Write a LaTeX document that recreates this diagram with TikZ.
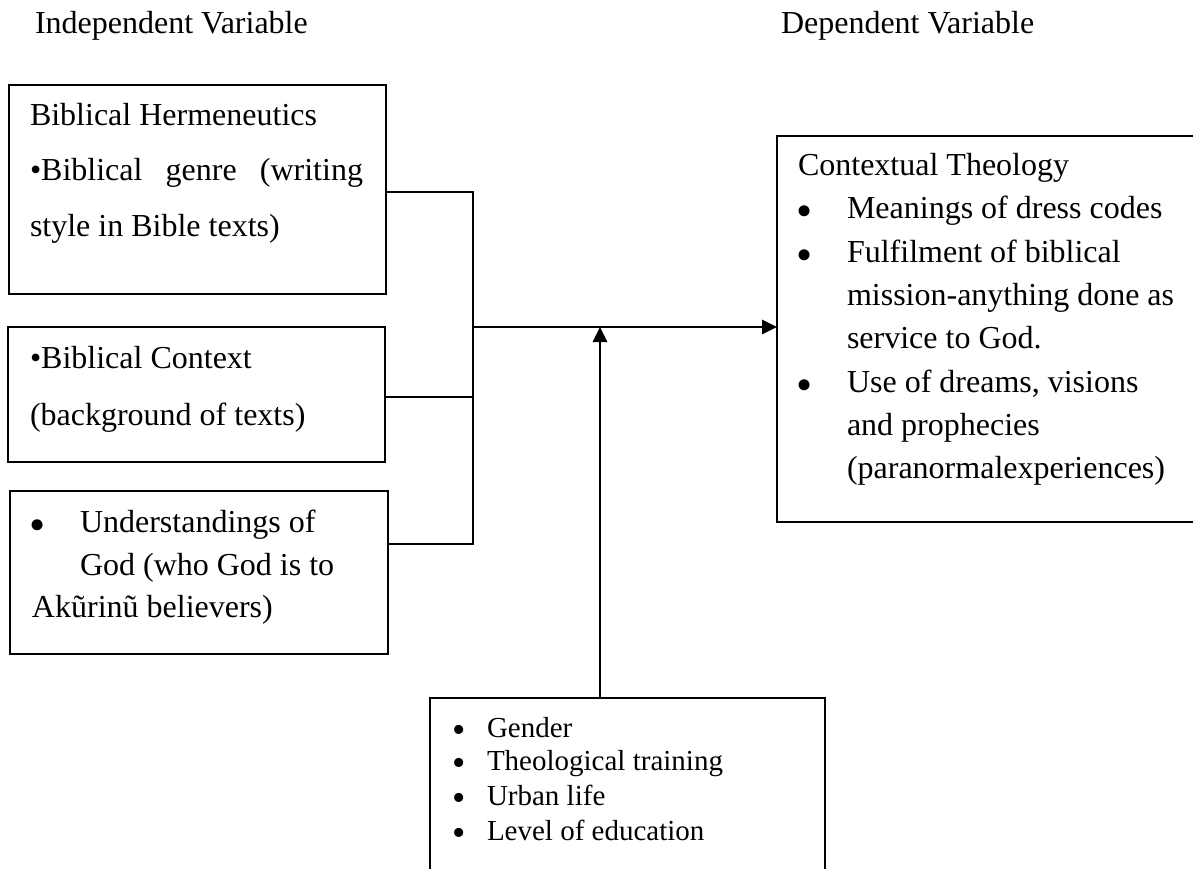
\documentclass[tikz,border=0pt]{standalone}
\usepackage{fontspec}
\setmainfont{Liberation Serif}
\usetikzlibrary{arrows.meta}
\begin{document}
\begin{tikzpicture}[x=0.5pt,y=-0.5pt,
  box/.style={draw,line width=1pt,rectangle,anchor=north west,inner sep=0,outer sep=0},
  txt/.style={anchor=base west,inner sep=0,outer sep=0,font=\fontsize{16}{19}\selectfont},
  small/.style={anchor=base west,inner sep=0,outer sep=0,font=\fontsize{14.5}{17}\selectfont},
  bul/.style={anchor=base,inner sep=0,outer sep=0,yshift=-4pt,font=\fontsize{23}{23}\selectfont},
  sbul/.style={anchor=base,inner sep=0,outer sep=0,yshift=-2.5pt,font=\fontsize{19}{19}\selectfont},
  conn/.style={line width=1pt},
  arr/.style={line width=1.4pt,-{Triangle[length=7.5pt,width=7pt]}}]
\useasboundingbox (0,0) rectangle (1193,868);
\clip (0,0) rectangle (1193,868);
\fill[white] (0,0) rectangle (1193,868);

% headers
\node[txt] (hInd) at (35,33) {Independent Variable};
\node[txt] (hDep) at (781,33) {Dependent Variable};

% boxes
\node[box,minimum width=188.5pt,minimum height=104.5pt] (b1) at (9,85) {};
\node[box,minimum width=188.5pt,minimum height=67.5pt] (b2) at (8,327) {};
\node[box,minimum width=189pt,minimum height=81.5pt] (b3) at (10,491) {};
\node[box,minimum width=216.5pt,minimum height=193pt] (b4) at (777,136) {};
\node[box,minimum width=197.5pt,minimum height=96pt] (b5) at (430,698) {};

% box 1 text
\node[txt] (t11) at (30,125) {Biblical Hermeneutics};
\node[txt] (t12) at (30,180) {\makebox[166.5pt][s]{\textbullet Biblical\hfill genre\hfill (writing}};
\node[txt] (t13) at (30,236) {style in Bible texts)};

% box 2 text
\node[txt] (t21) at (30,368) {\textbullet Biblical Context};
\node[txt] (t22) at (30,425) {(background of texts)};

% box 3 text
\node[bul] (u31) at (38,532) {\textbullet};
\node[txt] (t31) at (80,532) {Understandings of};
\node[txt] (t32) at (80,575) {God (who God is to};
\node[txt] (t33) at (32,617) {Akũrinũ believers)};

% box 4 text
\node[txt] (t40) at (798,175) {Contextual Theology};
\node[bul] (u41) at (805,218) {\textbullet};
\node[txt] (t41) at (847,218) {Meanings of dress codes};
\node[bul] (u42) at (805,262) {\textbullet};
\node[txt] (t42) at (847,262) {Fulfilment of biblical};
\node[txt] (t43) at (847,305) {mission-anything done as};
\node[txt] (t44) at (847,348) {service to God.};
\node[bul] (u45) at (805,392) {\textbullet};
\node[txt] (t45) at (847,392) {Use of dreams, visions};
\node[txt] (t46) at (847,435) {and prophecies};
\node[txt] (t47) at (847,478) {(paranormalexperiences)};

% box 5 text
\node[sbul] (u51) at (459,737) {\textbullet};
\node[small] (t51) at (487,737) {Gender};
\node[sbul] (u52) at (459,770) {\textbullet};
\node[small] (t52) at (487,770) {Theological training};
\node[sbul] (u53) at (459,805) {\textbullet};
\node[small] (t53) at (487,805) {Urban life};
\node[sbul] (u54) at (459,840) {\textbullet};
\node[small] (t54) at (487,840) {Level of education};

% connectors
\coordinate (jt) at (473,192);
\coordinate (j2) at (473,397);
\coordinate (jb) at (473,544);
\coordinate (jm) at (473,327);
\coordinate (jv) at (600,327);
\draw[conn] (b1.east |- jt) -- (jt) -- (jb) -- (b3.east |- jb);
\draw[conn] (b2.east |- j2) -- (j2);
\draw[arr] (jm) -- (b4.west |- jm);
\draw[arr] (jv |- b5.north) -- (jv);
\end{tikzpicture}
\end{document}
